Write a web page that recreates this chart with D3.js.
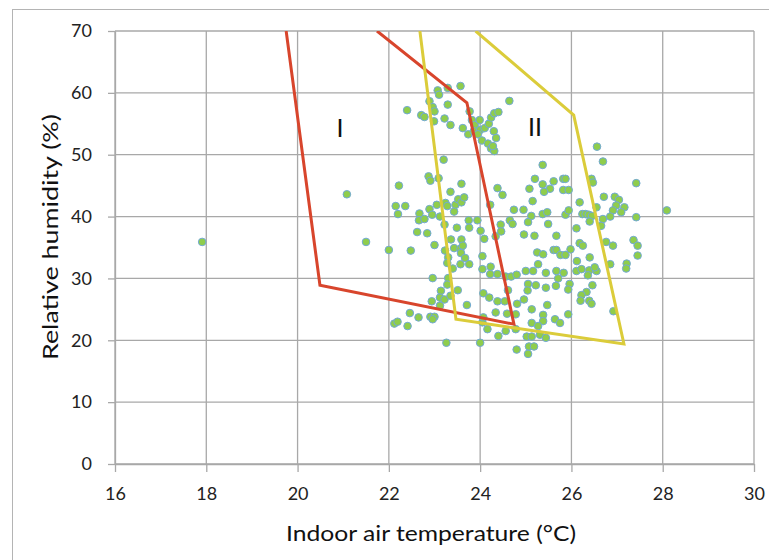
<!DOCTYPE html>
<html><head><meta charset="utf-8">
<script src="https://cdn.jsdelivr.net/npm/d3@7/dist/d3.min.js"></script>
<style>
body{margin:0;background:#fff;}
svg{display:block;font-family:Lato,"Open Sans",sans-serif;}
</style></head><body>
<svg id="chart" width="769" height="560"></svg>
<script>
const xTicks=[16,18,20,22,24,26,28,30];
const yTicks=[0,10,20,30,40,50,60,70];
const xTitle="Indoor air temperature (°C)";
const yTitle="Relative humidity (%)";

const indoorTemp=[
17.91,21.08,21.5,
23.07,23.1,23.29,23.57,22.89,22.96,23.0,22.4,22.71,22.78,22.99,23.22,23.29,23.35,23.62,23.77,23.82,23.88,23.74,23.86,23.99,24.0,23.95,24.04,24.1,24.19,24.24,24.31,24.4,24.3,24.35,24.17,24.24,24.31,24.28,24.64,23.2,26.56,26.69,
22.87,22.91,23.09,22.22,23.59,23.35,22.15,22.36,22.2,22.67,22.66,22.78,22.89,22.95,23.05,23.12,23.24,23.28,23.46,23.43,23.52,23.59,23.65,23.22,23.49,22.62,22.84,23.0,22.0,22.48,23.36,23.59,23.75,23.94,23.76,24.01,24.09,23.43,23.57,23.62,23.58,23.67,23.23,23.3,23.28,23.57,23.76,24.05,24.34,24.22,24.38,24.49,24.45,24.46,24.05,24.23,23.4,
22.96,23.3,23.28,23.51,23.14,23.12,23.22,23.35,22.94,23.12,23.71,22.46,22.65,22.91,23.0,22.96,22.12,22.19,22.41,23.26,24.0,24.07,24.2,24.22,24.38,24.56,24.68,24.8,24.61,24.38,24.54,24.34,24.59,24.78,24.05,24.16,24.4,24.56,24.78,24.8,24.07,
25.37,25.2,25.37,25.61,25.82,25.87,25.08,25.53,25.4,25.82,25.94,26.44,26.47,27.42,25.15,26.18,26.71,26.95,27.04,26.98,27.16,26.91,27.09,26.55,24.74,24.95,25.37,25.47,25.12,25.87,25.94,26.24,26.31,26.38,26.45,26.69,26.85,27.42,28.09,24.65,24.71,25.05,25.49,26.4,26.65,26.11,24.96,25.19,25.67,26.18,26.25,26.76,26.91,27.36,27.45,27.45,25.25,25.38,25.61,25.67,25.76,25.87,25.98,26.12,26.4,27.21,
25.0,25.16,25.27,25.44,25.67,25.71,25.83,26.11,26.22,26.39,26.36,26.55,26.51,26.85,27.2,25.05,25.22,25.44,25.66,25.96,25.93,26.46,26.33,26.22,26.2,26.39,26.44,25.04,24.96,24.81,25.13,25.47,25.38,25.38,25.13,25.27,25.64,25.75,25.93,26.92,25.02,25.13,25.31,25.44,25.07,25.18,25.05
];
const relHumidity=[
35.9,43.6,35.9,
60.4,59.7,60.8,61.1,58.65,57.7,57.0,57.2,56.4,56.1,55.4,55.85,58.1,54.8,54.3,57.0,55.6,54.8,53.3,53.8,55.6,54.0,53.3,52.3,54.3,55.0,56.0,56.7,56.9,53.8,52.7,51.8,51.0,50.6,51.4,58.7,49.2,51.3,48.9,
46.5,45.8,46.2,45.0,45.3,44.0,41.7,41.7,40.4,40.5,39.4,39.6,41.2,40.3,41.9,40.0,42.2,41.7,41.9,40.8,42.8,42.3,43.1,38.7,38.2,37.5,37.3,35.4,34.6,34.5,36.3,36.3,39.4,39.4,38.2,37.7,36.4,34.9,34.8,35.3,34.1,33.3,34.5,33.4,32.5,32.3,32.3,33.6,36.8,41.9,44.6,43.5,38.7,37.6,31.5,31.9,31.6,
30.05,30.05,29.0,28.1,28.0,26.9,26.6,27.2,26.3,25.6,25.7,24.4,23.7,23.8,23.8,23.4,22.7,23.0,22.3,19.6,19.6,27.6,26.9,30.7,30.7,30.3,30.3,30.6,28.1,26.3,26.3,24.5,24.3,24.2,22.9,21.8,20.7,21.5,21.8,18.5,23.7,
48.35,46.1,45.2,45.7,46.1,46.1,44.5,44.5,44.0,44.3,44.3,46.1,45.5,45.4,42.5,42.3,43.2,43.2,42.7,41.8,41.5,41.0,40.7,41.5,41.1,41.1,40.4,40.7,40.1,40.3,41.0,40.4,40.4,40.3,40.1,39.6,40.0,39.9,41.0,39.4,38.8,39.1,38.8,39.2,38.5,38.1,37.1,36.9,36.9,35.7,35.3,35.9,35.3,36.2,35.3,33.7,34.2,33.9,34.6,34.6,33.8,33.8,34.7,32.8,33.4,32.4,
31.2,31.2,32.3,30.9,31.2,30.0,30.9,31.2,31.5,31.3,30.5,31.2,31.8,32.3,31.6,29.1,28.9,28.5,28.8,29.1,28.2,28.9,27.8,27.3,26.4,26.4,25.9,28.05,26.6,25.9,25.0,25.7,24.1,23.1,22.8,22.3,23.4,22.8,24.2,24.7,20.6,20.6,20.9,20.4,19.0,19.0,17.8
];

const zoneITemp=[19.75,20.49,24.74,23.71,21.74];
const zoneIRH=[70,28.9,22.6,58.4,70];
const zoneIITemp=[22.68,23.47,27.15,26.05,23.9];
const zoneIIRH=[70,23.4,19.4,56.4,70];
const zoneNames=["I","II"];
const zoneLabelTemp=[20.93,25.2];
const zoneLabelRH=[54.3,54.5];

const svg=d3.select("#chart");
const x=d3.scaleLinear().domain([16,30]).range([115,754]);
const y=d3.scaleLinear().domain([0,70]).range([464,31]);
const gridColor="#a8a8a8";

// outer frame
svg.append("rect").attr("x",12.5).attr("y",9.5).attr("width",800).attr("height",600)
  .attr("fill","none").attr("stroke","#b4b4b4").attr("stroke-width",1);

svg.append("clipPath").attr("id","plotclip").append("rect")
  .attr("x",x(16)).attr("y",y(70)).attr("width",x(30)-x(16)).attr("height",y(0)-y(70));

// gridlines
svg.append("g").selectAll("line").data(xTicks).join("line")
  .attr("x1",d=>x(d)).attr("x2",d=>x(d)).attr("y1",y(0)).attr("y2",y(70))
  .attr("stroke",gridColor).attr("stroke-width",1.3);
svg.append("g").selectAll("line").data(yTicks).join("line")
  .attr("x1",x(16)).attr("x2",x(30)).attr("y1",d=>y(d)).attr("y2",d=>y(d))
  .attr("stroke",gridColor).attr("stroke-width",1.3);

// axes
const xAxis=svg.append("g").attr("transform",`translate(0,${y(0)})`)
  .call(d3.axisBottom(x).tickValues(xTicks).tickSize(8).tickSizeOuter(0).tickPadding(15).tickFormat(d3.format("d")));
const yAxis=svg.append("g").attr("transform",`translate(${x(16)},0)`)
  .call(d3.axisLeft(y).tickValues(yTicks).tickSize(7).tickSizeOuter(0).tickPadding(16).tickFormat(d3.format("d")));
[xAxis,yAxis].forEach(g=>{
  g.select(".domain").attr("stroke",gridColor).attr("stroke-width",1.3);
  g.selectAll(".tick line").attr("stroke",gridColor).attr("stroke-width",1.3);
  g.selectAll(".tick text").attr("fill","#222").style("font-family","Lato, sans-serif").style("font-size","18px");
});

// points
svg.append("g").attr("clip-path","url(#plotclip)").selectAll("circle").data(indoorTemp).join("circle")
  .attr("cx",d=>x(d)).attr("cy",(d,i)=>y(relHumidity[i])).attr("r",3.8)
  .attr("fill","#8fcd4c").attr("stroke","#72a9d6").attr("stroke-width",1);

// zone polygons
const line=d3.line().x(d=>x(d[0])).y(d=>y(d[1]));
const zones=[
  {t:zoneITemp,h:zoneIRH,color:"#d8452c"},
  {t:zoneIITemp,h:zoneIIRH,color:"#dbcc3a"}
];
svg.append("g").attr("clip-path","url(#plotclip)").selectAll("path").data(zones).join("path")
  .attr("d",z=>line(z.t.map((t,i)=>[t,z.h[i]])))
  .attr("fill","none").attr("stroke",z=>z.color).attr("stroke-width",3).attr("stroke-linejoin","miter");

// zone labels
svg.append("g").selectAll("text").data(zoneNames).join("text")
  .attr("x",(d,i)=>x(zoneLabelTemp[i])).attr("y",(d,i)=>y(zoneLabelRH[i]))
  .attr("dy","0.36em").attr("text-anchor","middle")
  .style("font-size","25px").attr("fill","#111").text(d=>d);

// axis titles
svg.append("text").attr("x",431).attr("y",541).attr("text-anchor","middle")
  .attr("textLength",290).attr("lengthAdjust","spacingAndGlyphs")
  .style("font-size","22px").attr("fill","#111").text(xTitle);
svg.append("text").attr("transform",`translate(58,237) rotate(-90)`).attr("text-anchor","middle")
  .attr("textLength",246).attr("lengthAdjust","spacingAndGlyphs")
  .style("font-size","22px").attr("fill","#111").text(yTitle);
</script>
</body></html>
